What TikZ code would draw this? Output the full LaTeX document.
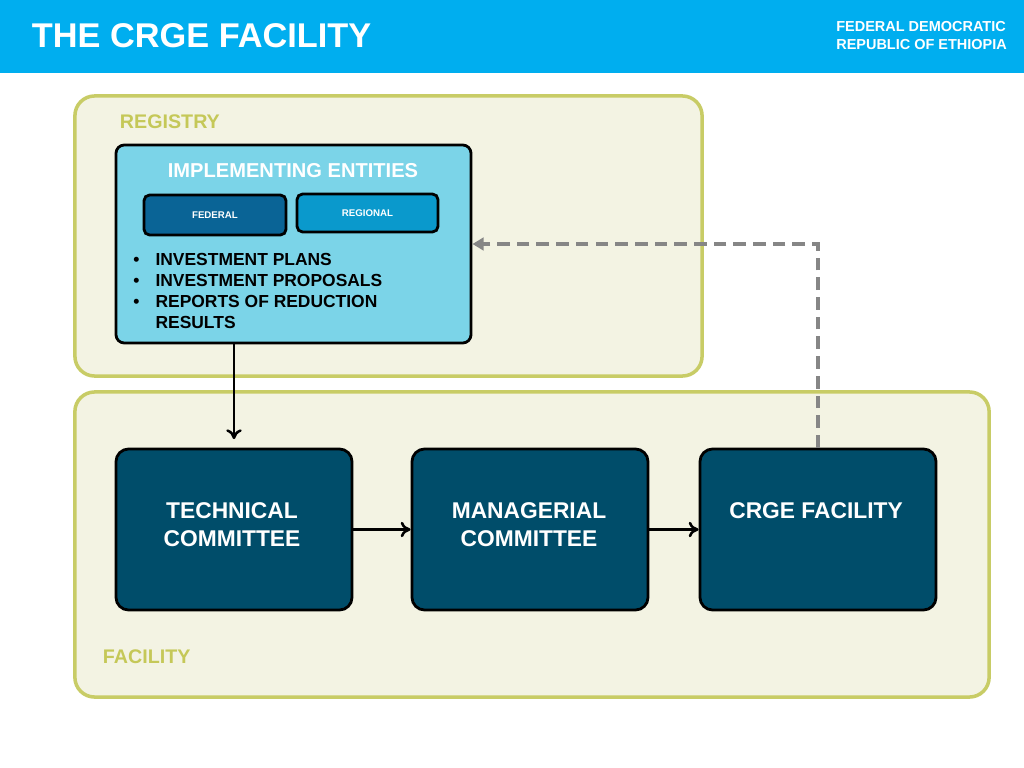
\documentclass[tikz,border=0pt]{standalone}
\usepackage{fontspec}
\setmainfont{Liberation Sans}
\usetikzlibrary{arrows.meta}
\usetikzlibrary{positioning}

\definecolor{headblue}{RGB}{0,174,239}
\definecolor{cream}{RGB}{243,243,227}
\definecolor{olive}{RGB}{200,204,102}
\definecolor{oliveText}{RGB}{197,200,88}
\definecolor{lightblue}{RGB}{123,212,232}
\definecolor{fedblue}{RGB}{10,100,150}
\definecolor{regblue}{RGB}{10,153,204}
\definecolor{darkteal}{RGB}{0,77,106}
\definecolor{dashgray}{RGB}{134,134,134}

\tikzset{
  area/.style={draw=olive,fill=cream,line width=2.5pt,rounded corners=14pt},
  entbox/.style={draw=black,line width=2pt,rounded corners=6pt},
  stagebox/.style={draw=black,line width=2pt,fill=darkteal,rounded corners=9pt,
    minimum width=5.9cm,minimum height=4.025cm},
  stagetext/.style={text=white,font=\fontsize{16.2}{19.9}\selectfont\bfseries,align=center},
  flow/.style={-{To[length=7pt,width=11pt,line width=1.8pt]},line width=2.1pt},
  feedback/.style={-{Triangle[length=8pt,width=9pt]},dashgray,line width=2.8pt,
    dash pattern=on 9pt off 5pt}
}

\begin{document}
\begin{tikzpicture}[x=0.025cm,y=-0.025cm]
  \useasboundingbox (0,0) rectangle (1024,768);

  % header
  \fill[headblue] (0,0) rectangle (1024,73);
  \node[anchor=west,text=white,font=\fontsize{24.4}{28}\selectfont\bfseries] (title) at (27,36) {THE CRGE FACILITY};
  \node[anchor=west,text=white,align=left,inner sep=0pt,font=\fontsize{10.3}{12.8}\selectfont\bfseries] (country) at (836,36) {FEDERAL DEMOCRATIC\\REPUBLIC OF ETHIOPIA};

  % areas
  \node[area,minimum width=15.675cm,minimum height=7cm] (registry) at (388.5,236) {};
  \node[anchor=west,text=oliveText,font=\fontsize{14}{16}\selectfont\bfseries] (regLabel) at (115,122) {REGISTRY};
  \node[area,minimum width=22.85cm,minimum height=7.625cm] (facility) at (532,544.5) {};
  \node[anchor=west,text=oliveText,font=\fontsize{14}{16}\selectfont\bfseries] (facLabel) at (98,657) {FACILITY};

  % implementing entities
  \node[entbox,fill=lightblue,minimum width=8.875cm,minimum height=4.95cm] (IE) at (293.5,244) {};
  \node[text=white,font=\fontsize{14.3}{16}\selectfont\bfseries] (ieTitle) at (293,171) {IMPLEMENTING ENTITIES};
  \node[entbox,fill=fedblue,minimum width=3.55cm,minimum height=1cm,rounded corners=4pt,
    text=white,font=\fontsize{6.9}{8}\selectfont\bfseries] (federal) at (215,215) {FEDERAL};
  \node[entbox,fill=regblue,minimum width=3.525cm,minimum height=0.95cm,rounded corners=4pt,
    text=white,font=\fontsize{6.9}{8}\selectfont\bfseries] (regional) at (367.5,213) {REGIONAL};
  \node[anchor=west,inner sep=0pt,font=\fontsize{12.4}{14.9}\selectfont\bfseries] (ieList) at (133,292.5)
    {\begin{tabular}{@{}l@{\hspace{11.5pt}}l@{}}
      \textbullet & INVESTMENT PLANS\\
      \textbullet & INVESTMENT PROPOSALS\\
      \textbullet & REPORTS OF REDUCTION\\
                  & RESULTS
    \end{tabular}};

  % committees
  \node[stagebox] (TC) at (234,529.5) {};
  \node[stagebox] (MC) at (530,529.5) {};
  \node[stagebox] (CF) at (818,529.5) {};
  \node[stagetext] (tcText) at (232,525) {TECHNICAL\\COMMITTEE};
  \node[stagetext] (mcText) at (529,525) {MANAGERIAL\\COMMITTEE};
  \node[stagetext] (cfText) at (816,511) {CRGE FACILITY};

  % connectors
  \draw[flow,shorten >=6pt] (IE.south -| TC.north) -- (TC.north);
  \draw[flow] (TC.east) -- (MC.west);
  \draw[flow] (MC.east) -- (CF.west);
  \draw[feedback] (CF.north) |- (IE.east);
\end{tikzpicture}
\end{document}
